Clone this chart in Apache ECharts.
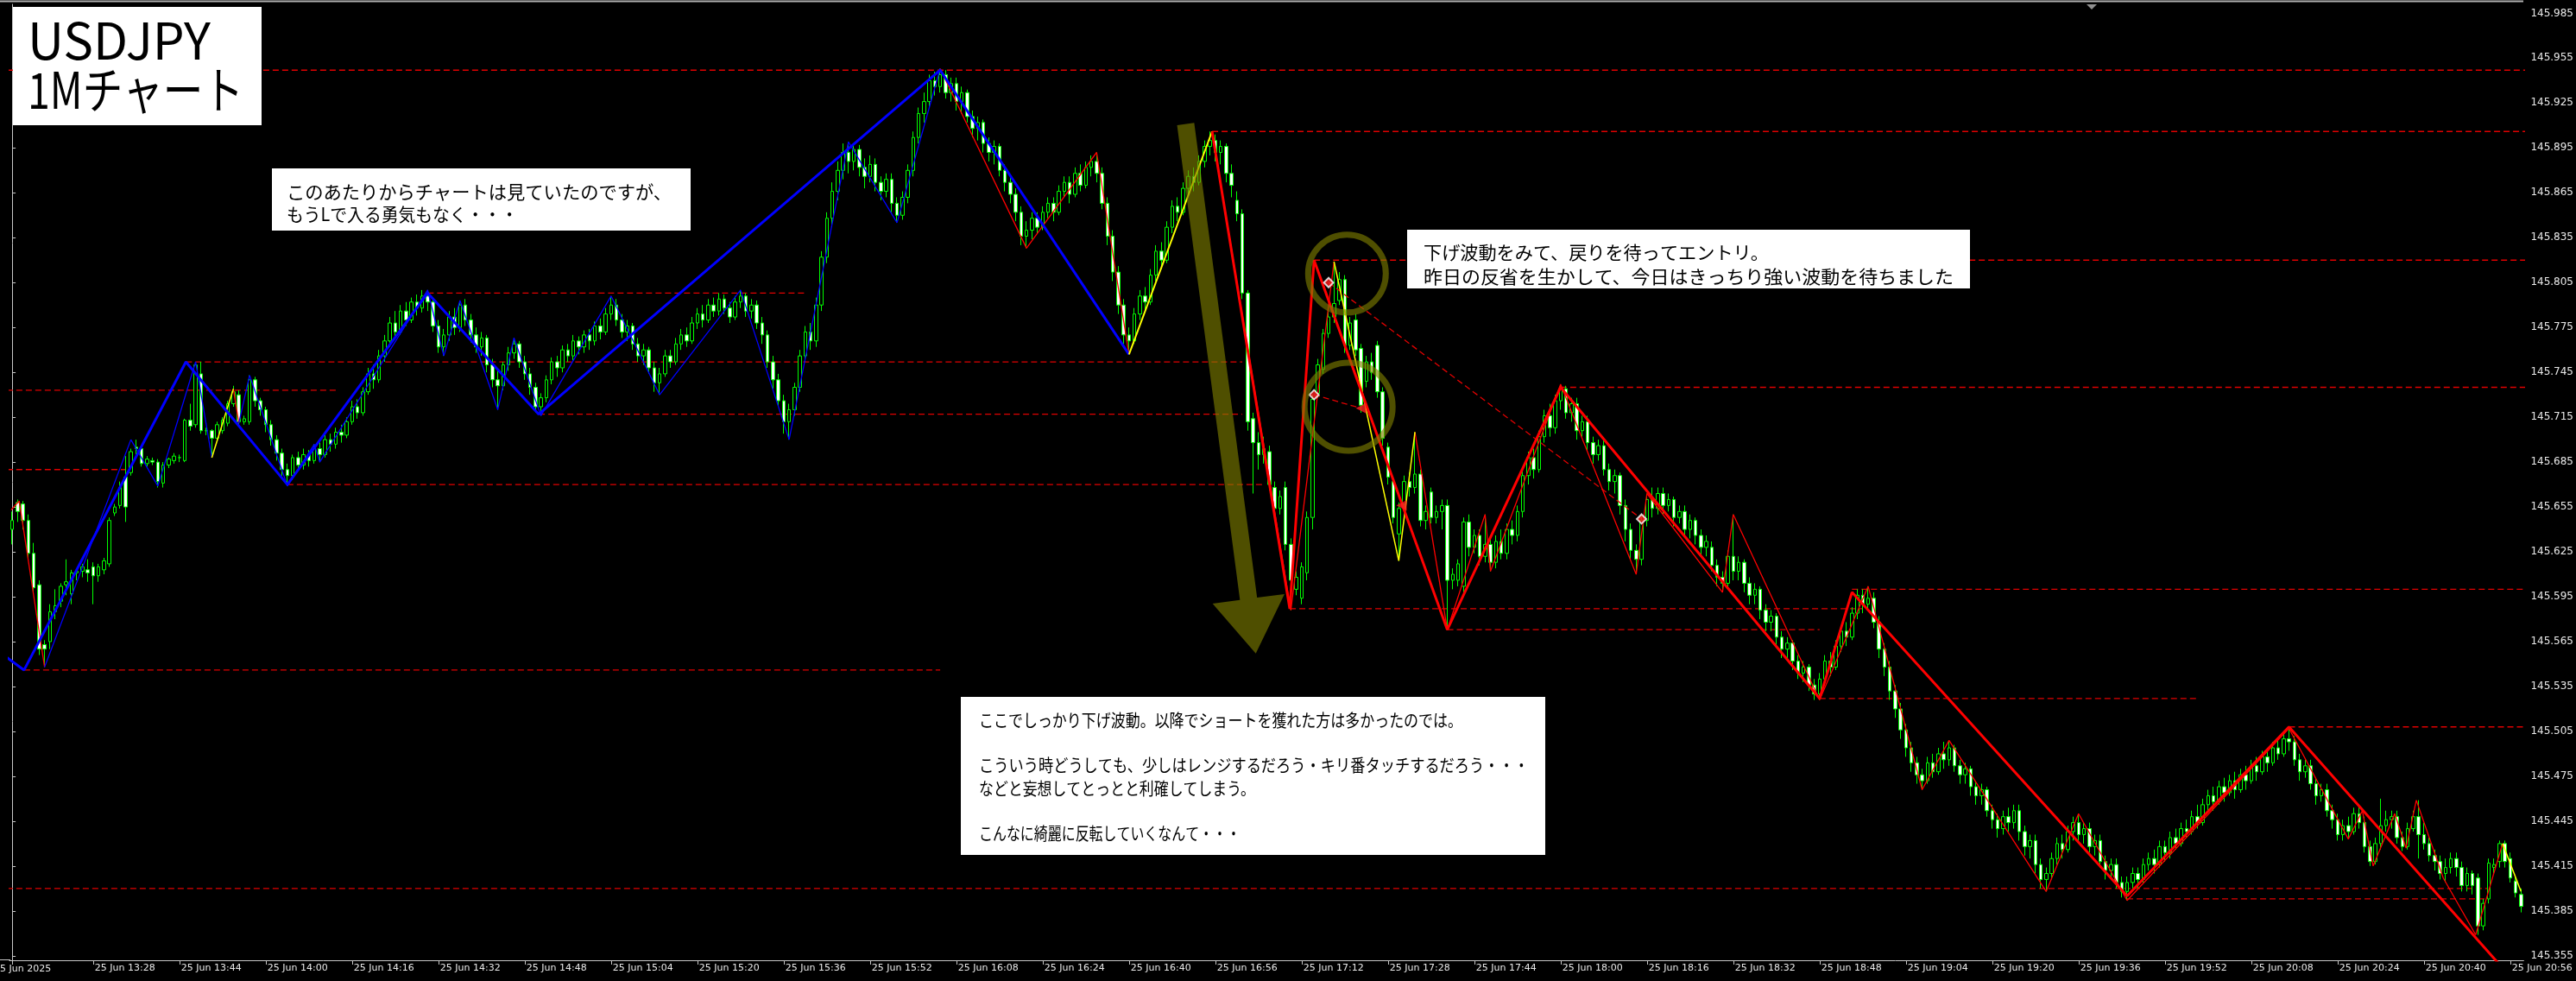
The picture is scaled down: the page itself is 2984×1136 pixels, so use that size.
<!DOCTYPE html>
<html><head><meta charset="utf-8">
<script src="https://cdn.jsdelivr.net/npm/echarts@6/dist/echarts.min.js"></script>
<style>html,body{margin:0;padding:0;background:#000;overflow:hidden}#c{width:2984px;height:1136px}</style>
</head><body><div id="c"></div>
<script>
// ---- data: 1-minute candles [open, close, low, high], first bar 25 Jun 13:13 ----
const startMinute = 13 * 60 + 13;
const bars13 = [
[145.640,145.646,145.630,145.652],[145.658,145.652,145.645,145.660],[145.657,145.646,145.640,145.659],[145.646,145.624,145.620,145.650],[145.624,145.601,145.598,145.631],
[145.603,145.560,145.556,145.606],[145.563,145.560,145.548,145.566],[145.565,145.585,145.560,145.590],[145.585,145.589,145.580,145.600],[145.592,145.602,145.588,145.604],
[145.603,145.605,145.596,145.620],[145.597,145.611,145.590,145.613],[145.611,145.612,145.606,145.614],[145.612,145.615,145.608,145.617],[145.613,145.611,145.605,145.620],
[145.615,145.609,145.590,145.618],[145.609,145.615,145.605,145.617],[145.613,145.619,145.610,145.621],[145.617,145.646,145.615,145.648],[145.651,145.655,145.649,145.657],
[145.656,145.668,145.654,145.672],[145.675,145.655,145.645,145.689],[145.678,145.692,145.676,145.694],[145.695,145.694,145.690,145.700],[145.694,145.684,145.682,145.696],
[145.684,145.687,145.682,145.689],[145.686,145.685,145.683,145.688],[145.685,145.672,145.668,145.687],[145.671,145.683,145.668,145.685],[145.683,145.687,145.681,145.688],
[145.686,145.689,145.684,145.691],[145.688,145.688,145.685,145.690],[145.686,145.713,145.685,145.714],[145.713,145.709,145.706,145.724],[145.710,145.750,145.708,145.752],
[145.744,145.706,145.704,145.752],[145.706,145.706,145.703,145.708],[145.706,145.701,145.690,145.707],[145.701,145.710,145.699,145.712],[145.706,145.713,145.704,145.715],
[145.711,145.724,145.709,145.726],[145.724,145.732,145.722,145.736],[145.730,145.712,145.710,145.733],[145.712,145.714,145.710,145.716],[145.712,145.740,145.710,145.743],
[145.740,145.726,145.722,145.742],[145.726,145.720,145.716,145.728]
];
const bars14 = [
[145.720,145.710,145.705,145.722],[145.710,145.700,145.696,145.713],[145.700,145.691,145.686,145.703],[145.691,145.680,145.676,145.694],[145.680,145.676,145.669,145.684],
[145.676,145.688,145.673,145.690],[145.688,145.683,145.679,145.692],[145.683,145.690,145.680,145.694],[145.690,145.686,145.682,145.693],[145.686,145.694,145.684,145.697],
[145.694,145.690,145.685,145.698],[145.690,145.700,145.688,145.703],[145.700,145.697,145.692,145.704],[145.697,145.705,145.694,145.708],[145.705,145.703,145.698,145.710],
[145.703,145.712,145.701,145.715],[145.712,145.722,145.710,145.726],[145.722,145.718,145.714,145.727],[145.718,145.732,145.716,145.735],[145.732,145.744,145.730,145.748],
[145.744,145.740,145.734,145.750],[145.740,145.756,145.738,145.760],[145.756,145.766,145.752,145.770],[145.766,145.778,145.762,145.782],[145.778,145.772,145.768,145.786],
[145.772,145.786,145.770,145.790],[145.786,145.780,145.776,145.792],[145.780,145.792,145.778,145.795],[145.792,145.788,145.783,145.797],[145.788,145.796,145.785,145.800],
[145.796,145.792,145.786,145.800],[145.792,145.776,145.772,145.795],[145.776,145.762,145.758,145.780],[145.762,145.770,145.756,145.774],[145.770,145.782,145.766,145.786],
[145.782,145.775,145.770,145.788],[145.775,145.790,145.772,145.793],[145.790,145.780,145.776,145.794],[145.780,145.770,145.765,145.784],[145.770,145.762,145.758,145.775],
[145.762,145.768,145.756,145.772],[145.768,145.750,145.745,145.770],[145.750,145.740,145.735,145.754],[145.740,145.736,145.720,145.748],[145.736,145.750,145.733,145.752],
[145.750,145.758,145.746,145.762],[145.758,145.764,145.754,145.768],[145.764,145.752,145.748,145.766],[145.752,145.744,145.740,145.756],[145.744,145.735,145.730,145.748],
[145.735,145.722,145.718,145.738],[145.722,145.728,145.716,145.731],[145.728,145.740,145.725,145.743],[145.740,145.752,145.737,145.755],[145.752,145.748,145.742,145.756],
[145.748,145.760,145.745,145.763],[145.760,145.756,145.752,145.764],[145.756,145.766,145.753,145.770],[145.766,145.762,145.757,145.769],[145.762,145.770,145.758,145.773]
];
const bars15 = [
[145.770,145.766,145.760,145.774],[145.766,145.776,145.763,145.779],[145.776,145.772,145.767,145.781],[145.772,145.784,145.770,145.788],[145.784,145.790,145.780,145.796],
[145.790,145.780,145.776,145.794],[145.780,145.772,145.768,145.784],[145.772,145.776,145.766,145.780],[145.776,145.764,145.760,145.778],[145.764,145.756,145.752,145.768],
[145.756,145.760,145.750,145.764],[145.760,145.748,145.744,145.762],[145.748,145.738,145.732,145.752],[145.738,145.744,145.730,145.748],[145.744,145.756,145.742,145.760],
[145.756,145.752,145.748,145.760],[145.752,145.764,145.750,145.768],[145.764,145.770,145.760,145.774],[145.770,145.766,145.762,145.775],[145.766,145.778,145.764,145.782],
[145.778,145.784,145.774,145.788],[145.784,145.780,145.775,145.790],[145.780,145.790,145.778,145.794],[145.790,145.786,145.782,145.795],[145.786,145.794,145.783,145.798],
[145.794,145.788,145.784,145.797],[145.788,145.782,145.778,145.792],[145.782,145.792,145.780,145.796],[145.792,145.796,145.788,145.800],[145.796,145.786,145.782,145.798],
[145.786,145.790,145.781,145.794],[145.790,145.778,145.774,145.793],[145.778,145.770,145.764,145.782],[145.770,145.752,145.748,145.773],[145.752,145.740,145.734,145.756],
[145.740,145.726,145.722,145.744],[145.726,145.712,145.704,145.730],[145.712,145.720,145.700,145.724],[145.720,145.735,145.716,145.738],[145.735,145.756,145.732,145.760],
[145.756,145.772,145.752,145.776],[145.772,145.766,145.760,145.778],[145.766,145.790,145.762,145.795],[145.790,145.822,145.786,145.826],[145.822,145.848,145.818,145.852],
[145.848,145.866,145.842,145.872],[145.866,145.880,145.860,145.886],[145.880,145.892,145.874,145.898],[145.892,145.886,145.878,145.899],[145.886,145.894,145.880,145.898],
[145.894,145.882,145.876,145.897],[145.882,145.876,145.868,145.888],[145.876,145.884,145.872,145.890],[145.884,145.872,145.866,145.888],[145.872,145.866,145.860,145.876],
[145.866,145.874,145.862,145.878],[145.874,145.858,145.852,145.878],[145.858,145.850,145.845,145.862],[145.850,145.862,145.847,145.866],[145.862,145.880,145.858,145.884]
];
const bars16 = [
[145.880,145.902,145.876,145.906],[145.902,145.918,145.898,145.922],[145.918,145.926,145.912,145.932],[145.926,145.940,145.922,145.944],[145.940,145.936,145.930,145.946],
[145.936,145.944,145.932,145.948],[145.944,145.932,145.928,145.947],[145.932,145.938,145.926,145.942],[145.938,145.926,145.920,145.942],[145.926,145.932,145.918,145.936],
[145.932,145.916,145.912,145.934],[145.916,145.908,145.902,145.920],[145.908,145.912,145.900,145.916],[145.912,145.898,145.892,145.914],[145.898,145.892,145.886,145.902],
[145.892,145.896,145.884,145.900],[145.896,145.880,145.876,145.898],[145.880,145.872,145.866,145.884],[145.872,145.864,145.858,145.876],[145.864,145.852,145.846,145.868],
[145.852,145.836,145.830,145.856],[145.836,145.840,145.828,145.846],[145.840,145.848,145.834,145.852],[145.848,145.842,145.838,145.852],[145.842,145.852,145.840,145.856],
[145.852,145.858,145.848,145.862],[145.858,145.852,145.846,145.862],[145.852,145.866,145.850,145.870],[145.866,145.872,145.862,145.876],[145.872,145.864,145.858,145.876],
[145.864,145.878,145.862,145.882],[145.878,145.870,145.866,145.884],[145.870,145.882,145.868,145.886],[145.882,145.886,145.876,145.890],[145.886,145.878,145.872,145.892],
[145.878,145.858,145.854,145.882],[145.858,145.836,145.830,145.862],[145.836,145.812,145.806,145.840],[145.812,145.790,145.784,145.816],[145.790,145.770,145.764,145.794],
[145.770,145.766,145.757,145.775],[145.766,145.784,145.764,145.788],[145.784,145.796,145.780,145.800],[145.796,145.792,145.786,145.802],[145.792,145.810,145.790,145.814],
[145.810,145.826,145.806,145.830],[145.826,145.820,145.814,145.832],[145.820,145.842,145.818,145.846],[145.842,145.856,145.838,145.860],[145.856,145.852,145.846,145.862],
[145.852,145.868,145.850,145.872],[145.868,145.876,145.864,145.880],[145.876,145.872,145.866,145.882],[145.872,145.886,145.870,145.890],[145.886,145.896,145.882,145.900],
[145.896,145.900,145.890,145.906],[145.900,145.892,145.886,145.904],[145.892,145.896,145.884,145.900],[145.896,145.878,145.872,145.898],[145.878,145.870,145.862,145.884]
];
const bars17 = [
[145.860,145.851,145.846,145.866],[145.851,145.798,145.794,145.854],[145.798,145.712,145.706,145.800],[145.714,145.698,145.664,145.718],[145.698,145.690,145.680,145.705],
[145.690,145.694,145.684,145.702],[145.692,145.670,145.666,145.696],[145.668,145.654,145.648,145.672],[145.654,145.662,145.650,145.666],[145.668,145.630,145.626,145.672],
[145.630,145.606,145.586,145.634],[145.600,145.608,145.596,145.612],[145.594,145.615,145.590,145.618],[145.611,145.648,145.606,145.652],[145.648,145.727,145.640,145.730],
[145.731,145.750,145.728,145.754],[145.747,145.771,145.744,145.774],[145.771,145.782,145.768,145.786],[145.782,145.791,145.778,145.819],[145.793,145.807,145.790,145.812],
[145.807,145.763,145.758,145.810],[145.763,145.778,145.760,145.782],[145.780,145.760,145.756,145.784],[145.761,145.723,145.718,145.764],[145.739,145.752,145.735,145.756],
[145.752,145.745,145.740,145.758],[145.763,145.732,145.728,145.766],[145.732,145.701,145.696,145.735],[145.695,145.675,145.670,145.698],[145.672,145.648,145.644,145.675],
[145.637,145.654,145.619,145.658],[145.657,145.672,145.654,145.676],[145.672,145.668,145.662,145.678],[145.668,145.677,145.664,145.705],[145.677,145.646,145.642,145.680],
[145.646,145.652,145.640,145.656],[145.665,145.648,145.644,145.668],[145.648,145.652,145.644,145.656],[145.652,145.656,145.640,145.660],[145.656,145.606,145.573,145.660],
[145.606,145.610,145.600,145.614],[145.606,145.617,145.602,145.620],[145.602,145.645,145.598,145.648],[145.645,145.628,145.622,145.650],[145.628,145.636,145.624,145.640],
[145.636,145.622,145.616,145.640],[145.622,145.630,145.618,145.650],[145.630,145.618,145.612,145.634],[145.618,145.632,145.614,145.636],[145.632,145.624,145.620,145.640],
[145.624,145.640,145.620,145.644],[145.640,145.636,145.630,145.646],[145.636,145.652,145.632,145.656],[145.652,145.676,145.648,145.680],[145.676,145.688,145.670,145.692],
[145.688,145.680,145.674,145.694],[145.680,145.702,145.678,145.706],[145.702,145.716,145.698,145.720],[145.716,145.708,145.702,145.724],[145.708,145.726,145.704,145.730]
];
const bars18 = [
[145.726,145.734,145.720,145.737],[145.734,145.718,145.714,145.736],[145.718,145.724,145.712,145.728],[145.724,145.706,145.700,145.728],[145.706,145.712,145.702,145.716],
[145.712,145.698,145.692,145.716],[145.698,145.690,145.684,145.702],[145.690,145.696,145.686,145.700],[145.696,145.680,145.676,145.700],[145.680,145.672,145.666,145.684],
[145.672,145.676,145.664,145.680],[145.676,145.656,145.650,145.678],[145.656,145.640,145.632,145.660],[145.640,145.626,145.620,145.644],[145.626,145.620,145.610,145.630],
[145.620,145.646,145.616,145.650],[145.646,145.660,145.642,145.664],[145.660,145.654,145.648,145.668],[145.654,145.664,145.650,145.668],[145.664,145.656,145.650,145.668],
[145.656,145.660,145.652,145.664],[145.660,145.648,145.642,145.662],[145.648,145.652,145.644,145.656],[145.652,145.640,145.636,145.656],[145.640,145.646,145.634,145.650],
[145.646,145.636,145.630,145.648],[145.636,145.628,145.622,145.640],[145.628,145.632,145.622,145.636],[145.628,145.616,145.612,145.632],[145.616,145.608,145.602,145.620],
[145.608,145.604,145.598,145.612],[145.604,145.622,145.600,145.626],[145.622,145.612,145.606,145.650],[145.612,145.618,145.606,145.622],[145.618,145.604,145.598,145.620],
[145.604,145.596,145.590,145.608],[145.596,145.600,145.590,145.604],[145.600,145.586,145.580,145.602],[145.586,145.578,145.572,145.590],[145.578,145.582,145.572,145.586],
[145.582,145.568,145.562,145.584],[145.568,145.560,145.554,145.572],[145.560,145.564,145.554,145.568],[145.564,145.552,145.546,145.566],[145.552,145.544,145.540,145.556],
[145.544,145.548,145.538,145.552],[145.548,145.536,145.532,145.550],[145.536,145.530,145.526,145.540],[145.530,145.540,145.526,145.544],[145.540,145.552,145.536,145.556],
[145.552,145.548,145.542,145.558],[145.548,145.562,145.546,145.566],[145.562,145.572,145.558,145.576],[145.572,145.568,145.562,145.578],[145.568,145.584,145.566,145.588],
[145.584,145.596,145.580,145.600],[145.596,145.590,145.584,145.600],[145.590,145.594,145.586,145.602],[145.594,145.578,145.574,145.598],[145.578,145.560,145.554,145.582]
];
const bars19 = [
[145.560,145.548,145.542,145.564],[145.548,145.532,145.526,145.552],[145.532,145.520,145.514,145.536],[145.520,145.506,145.500,145.524],[145.506,145.494,145.488,145.510],
[145.494,145.484,145.478,145.498],[145.484,145.476,145.470,145.488],[145.476,145.472,145.466,145.480],[145.472,145.484,145.470,145.488],[145.484,145.478,145.474,145.490],
[145.478,145.490,145.476,145.494],[145.490,145.486,145.480,145.498],[145.486,145.494,145.482,145.499],[145.494,145.482,145.478,145.496],[145.482,145.476,145.470,145.486],
[145.476,145.480,145.470,145.484],[145.480,145.468,145.462,145.482],[145.468,145.462,145.456,145.472],[145.462,145.466,145.456,145.470],[145.466,145.452,145.448,145.468],
[145.452,145.446,145.440,145.456],[145.446,145.440,145.434,145.450],[145.440,145.448,145.436,145.452],[145.448,145.444,145.438,145.454],[145.444,145.452,145.440,145.456],
[145.452,145.438,145.432,145.456],[145.438,145.428,145.422,145.442],[145.428,145.432,145.420,145.436],[145.432,145.416,145.410,145.436],[145.416,145.406,145.400,145.420],
[145.406,145.410,145.398,145.414],[145.410,145.420,145.406,145.424],[145.420,145.430,145.416,145.434],[145.430,145.426,145.420,145.436],[145.426,145.438,145.424,145.442],
[145.438,145.444,145.432,145.448],[145.444,145.436,145.430,145.450],[145.436,145.440,145.430,145.444],[145.440,145.428,145.424,145.444],[145.428,145.432,145.422,145.436],
[145.432,145.418,145.414,145.436],[145.418,145.412,145.406,145.422],[145.412,145.416,145.406,145.420],[145.416,145.404,145.400,145.420],[145.404,145.398,145.394,145.408],
[145.398,145.404,145.392,145.408],[145.404,145.410,145.400,145.414],[145.410,145.406,145.400,145.414],[145.406,145.416,145.404,145.420],[145.416,145.420,145.412,145.424],
[145.420,145.416,145.410,145.426],[145.416,145.428,145.414,145.432],[145.428,145.424,145.418,145.432],[145.424,145.434,145.420,145.438],[145.434,145.430,145.426,145.440],
[145.430,145.440,145.428,145.444],[145.440,145.438,145.434,145.446],[145.438,145.448,145.436,145.452],[145.448,145.444,145.440,145.456],[145.444,145.456,145.442,145.460]
];
const bars20 = [
[145.456,145.462,145.452,145.466],[145.462,145.458,145.452,145.468],[145.458,145.468,145.456,145.472],[145.468,145.464,145.458,145.474],[145.464,145.472,145.462,145.476],
[145.472,145.466,145.460,145.478],[145.466,145.476,145.464,145.480],[145.476,145.472,145.466,145.482],[145.472,145.482,145.470,145.486],[145.482,145.478,145.472,145.488],
[145.478,145.488,145.476,145.492],[145.488,145.484,145.478,145.494],[145.484,145.494,145.482,145.498],[145.494,145.490,145.486,145.500],[145.490,145.500,145.488,145.504],
[145.500,145.498,145.492,145.507],[145.498,145.486,145.482,145.502],[145.486,145.478,145.472,145.490],[145.478,145.482,145.474,145.486],[145.482,145.470,145.466,145.486],
[145.470,145.462,145.456,145.474],[145.462,145.466,145.458,145.470],[145.466,145.452,145.448,145.470],[145.452,145.446,145.440,145.456],[145.446,145.436,145.432,145.450],
[145.436,145.442,145.432,145.446],[145.442,145.438,145.433,145.448],[145.438,145.450,145.436,145.454],[145.450,145.444,145.440,145.456],[145.444,145.428,145.424,145.448],
[145.428,145.418,145.415,145.432],[145.418,145.430,145.416,145.434],[145.430,145.442,145.426,145.460],[145.442,145.446,145.438,145.452],[145.446,145.448,145.440,145.452],
[145.448,145.434,145.430,145.452],[145.434,145.428,145.425,145.438],[145.428,145.440,145.426,145.444],[145.440,145.448,145.438,145.452],[145.448,145.436,145.420,145.459],
[145.436,145.430,145.426,145.444],[145.430,145.422,145.418,145.434],[145.422,145.418,145.412,145.426],[145.418,145.410,145.406,145.422],[145.410,145.414,145.404,145.420],
[145.414,145.420,145.410,145.424],[145.420,145.414,145.408,145.424],[145.414,145.402,145.398,145.418],[145.402,145.410,145.398,145.414],[145.410,145.402,145.396,145.412],
[145.407,145.375,145.369,145.410],[145.375,145.390,145.372,145.393],[145.393,145.417,145.390,145.420],[145.414,145.416,145.410,145.420],[145.418,145.430,145.414,145.432],
[145.430,145.418,145.414,145.432],[145.420,145.407,145.404,145.424],[145.405,145.397,145.394,145.408],[145.396,145.388,145.384,145.400]
];
const xTickLabels = ['25 Jun 13:28','25 Jun 13:44','25 Jun 14:00','25 Jun 14:16','25 Jun 14:32','25 Jun 14:48','25 Jun 15:04','25 Jun 15:20','25 Jun 15:36','25 Jun 15:52','25 Jun 16:08','25 Jun 16:24','25 Jun 16:40','25 Jun 16:56','25 Jun 17:12','25 Jun 17:28','25 Jun 17:44','25 Jun 18:00','25 Jun 18:16','25 Jun 18:32','25 Jun 18:48','25 Jun 19:04','25 Jun 19:20','25 Jun 19:36','25 Jun 19:52','25 Jun 20:08','25 Jun 20:24','25 Jun 20:40','25 Jun 20:56'];
const yTickLabels = [145.355,145.385,145.415,145.445,145.475,145.505,145.535,145.565,145.595,145.625,145.655,145.685,145.715,145.745,145.775,145.805,145.835,145.865,145.895,145.925,145.955,145.985];
// zigzag pivots [bar index, price]
const zigBlueThick = [[-2,145.557],[2.2,145.546],[32.2,145.752],[51,145.670],[77,145.798],[97.6,145.717],[172,145.947],[207,145.757]];
const zigYellowThick = [[207,145.757],[222.4,145.906]];
const zigRedThick = [[222.4,145.906],[236.8,145.587],[241.3,145.820],[266,145.573],[287,145.735],[335,145.527],[341,145.598],[392,145.395],[422,145.508],[464,145.337]];
const zigRedThinA = [[-0.2,145.653],[1.3,145.659],[6,145.548]];
const zigBlueThin = [[6,145.548],[22,145.700],[27,145.669],[34,145.752],[37,145.688]];
const zigYellowThinA = [[37,145.688],[41,145.734]];
const zigRedThinB = [[41,145.734],[42,145.711]];
const zigBlueThin2 = [[42,145.711],[44,145.743],[51,145.669],[56,145.697],[57,145.685],[77,145.800],[80,145.756],[83,145.793],[90,145.720],[93,145.768],[98,145.716],[111,145.796],[120,145.730],[135,145.800],[144,145.700],[155,145.899],[164,145.845],[172,145.948]];
const zigRedThinC = [[172,145.948],[188,145.828],[201,145.892],[207,145.757]];
const zigRedThinD = [[222.4,145.906],[237,145.586],[245,145.819]];
const zigYellowThinB = [[245,145.819],[257,145.619],[260,145.705]];
const zigRedThinE = [[260,145.705],[266,145.573],[273,145.650],[274,145.612],[287,145.737],[301,145.610],[303,145.664],[317,145.598],[319,145.650],[335,145.526],[344,145.602],[354,145.466],[359,145.499],[377,145.398],[383,145.450],[392,145.392],[422,145.507],[433,145.433],[435.6,145.452],[437.6,145.415],[441.6,145.450],[443.7,145.427],[445.6,145.459],[450.6,145.407],[456.6,145.369],[461.6,145.430]];
const zigYellowThinC = [[461.6,145.430],[465,145.398]];
// horizontal dashed levels [price, from bar, to bar]
const levels = [[145.947,-1,466],[145.906,222.4,466],[145.820,241.3,466],[145.798,77,147],[145.752,32.2,228],[145.733,-1,60],[145.735,287,466],[145.717,97.6,228],[145.680,-1,21],[145.670,51,232],[145.600,341,466],[145.587,236.8,343],[145.573,266,335],[145.546,2.2,172],[145.527,335,405],[145.508,422,466],[145.400,-1,459],[145.393,392,459]];
const entryMarks = [[244,145.805],[241.3,145.730],[302,145.647]];
const exitMarks = [[250,145.721],[257.5,145.656]];
const diagLines = [[[244,145.805],[302,145.647]],[[241.3,145.730],[250,145.721]]];

// ---- build ----
const candles = [].concat(bars13, bars14, bars15, bars16, bars17, bars18, bars19, bars20);
const categories = candles.map((_, k) => {
  const t = startMinute + k, h = Math.floor(t / 60), m = t % 60;
  return '25 Jun ' + String(h).padStart(2, '0') + ':' + String(m).padStart(2, '0');
});
const lastIdx = candles.length - 1;
const tickSet = new Set(xTickLabels);
const showTick = (idx) => idx === 0 || tickSet.has(categories[idx]);
const lineS = (data, color, width, z, dash) => ({
  type: 'line', xAxisIndex: 1, yAxisIndex: 0, data, showSymbol: false, symbol: 'none',
  lineStyle: { color, width, type: dash ? [7, 4] : 'solid' }, z, animation: false, silent: true
});
const series = [{
  type: 'candlestick', xAxisIndex: 0, yAxisIndex: 0, data: candles, barWidth: 4, z: 3,
  itemStyle: { color: '#000000', color0: '#ffffff', borderColor: '#00ff00', borderColor0: '#00ff00', borderWidth: 1 },
  animation: false
}];
levels.forEach(l => series.push(lineS([[l[1], l[0]], [l[2], l[0]]], '#e00000', 1.3, 2, true)));
diagLines.forEach(d => series.push(lineS(d, '#e00000', 1.3, 4, true)));
[zigRedThinA, zigRedThinB, zigRedThinC, zigRedThinD, zigRedThinE].forEach(d => series.push(lineS(d, '#ff0000', 1.3, 5)));
[zigBlueThin, zigBlueThin2].forEach(d => series.push(lineS(d, '#0000ff', 1.3, 5)));
[zigYellowThinA, zigYellowThinB, zigYellowThinC].forEach(d => series.push(lineS(d, '#ffff00', 1.5, 5)));
series.push(lineS(zigBlueThick, '#0000ff', 3, 6));
series.push(lineS(zigYellowThick, '#ffff00', 2, 6));
series.push(lineS(zigRedThick, '#ff0000', 3, 6));
series.push({ type: 'scatter', xAxisIndex: 1, yAxisIndex: 0, data: entryMarks, symbol: 'diamond', symbolSize: 11,
  itemStyle: { color: '#ff2020', borderColor: '#ffffff', borderWidth: 2 }, z: 7, animation: false });
series.push({ type: 'scatter', xAxisIndex: 1, yAxisIndex: 0, data: exitMarks, symbol: 'triangle', symbolRotate: 90, symbolSize: 12,
  itemStyle: { color: '#ff2020' }, z: 7, animation: false });

const chart = echarts.init(document.getElementById('c'), null, { width: 2984, height: 1136 });
chart.setOption({
  backgroundColor: '#000000', animation: false,
  grid: { left: 11, right: 60.5, top: 5, bottom: 24, containLabel: false },
  xAxis: [{
    type: 'category', data: categories, boundaryGap: true,
    axisLine: { show: true, lineStyle: { color: '#c8c8c8', width: 1 } },
    axisTick: { show: true, interval: (i) => showTick(i), alignWithLabel: true, length: 5, lineStyle: { color: '#c8c8c8' } },
    axisLabel: { interval: (i) => showTick(i) && i > 0, formatter: (v) => v, align: 'left', margin: 4, padding: [0, 0, 0, 2],
      color: '#e8e8e8', fontFamily: 'DejaVu Sans', fontSize: 11 },
    splitLine: { show: false }
  }, { type: 'value', min: -0.5, max: lastIdx + 0.5, show: false }],
  yAxis: [{
    type: 'value', position: 'right', min: 145.352, max: 145.991, scale: true,
    axisLine: { show: true, lineStyle: { color: '#c8c8c8', width: 1 } },
    axisTick: { show: true, length: 4, customValues: yTickLabels, lineStyle: { color: '#c8c8c8' } },
    axisLabel: { customValues: yTickLabels, formatter: (v) => Number(v).toFixed(3), margin: 8,
      color: '#e8e8e8', fontFamily: 'DejaVu Sans', fontSize: 12 },
    splitLine: { show: false }
  }],
  series
});

// ---- annotations anchored in data space ----
const px = (i, p) => chart.convertToPixel({ xAxisIndex: 1, yAxisIndex: 0 }, [i, p]);
const olive = 'rgba(128,128,0,0.62)';
const arrowTop = px(217.5, 145.911), arrowTip = px(230.5, 145.557);
function arrowPoly(a, t, shaftW, headW, headL) {
  const dx = t[0] - a[0], dy = t[1] - a[1], len = Math.hypot(dx, dy);
  const ux = dx / len, uy = dy / len, nx = -uy, ny = ux;
  const bx = t[0] - ux * headL, by = t[1] - uy * headL;
  return [[a[0] + nx * shaftW / 2, a[1] + ny * shaftW / 2], [bx + nx * shaftW / 2, by + ny * shaftW / 2], [bx + nx * headW / 2, by + ny * headW / 2], t,
    [bx - nx * headW / 2, by - ny * headW / 2], [bx - nx * shaftW / 2, by - ny * shaftW / 2], [a[0] - nx * shaftW / 2, a[1] - ny * shaftW / 2]];
}
const c1 = px(247.4, 145.811), c2 = px(247.7, 145.722);
const jp = '"Noto Sans CJK JP"';
const mctx = document.createElement('canvas').getContext('2d');
const box = (x, y, w, h) => ({ type: 'rect', shape: { x, y, width: w, height: h }, style: { fill: '#ffffff' }, z: 100 });
function txt(x, y, text, size, targetW) {
  const font = size + 'px ' + jp;
  mctx.font = font;
  const w = mctx.measureText(text).width;
  return { type: 'text', x, y, z: 101, scaleX: targetW ? targetW / w : 1,
    style: { x: 0, y: 0, text, fill: '#000000', font, textVerticalAlign: 'middle', textAlign: 'left' } };
}
chart.setOption({
  graphic: [
    { type: 'line', shape: { x1: 0, y1: 1.5, x2: 2923, y2: 1.5 }, style: { stroke: '#b0b0b0', lineWidth: 2 }, z: 90 },
    { type: 'line', shape: { x1: 0, y1: 1111.5, x2: 12, y2: 1111.5 }, style: { stroke: '#c8c8c8', lineWidth: 1 }, z: 90 },
    { type: 'polygon', shape: { points: [[2417, 5], [2429, 5], [2423, 11]] }, style: { fill: '#909090' }, z: 90 },
    { type: 'polygon', shape: { points: arrowPoly(arrowTop, arrowTip, 20, 84, 64) }, style: { fill: olive }, z: 60 },
    { type: 'circle', shape: { cx: c1[0], cy: c1[1], r: 45 }, style: { fill: 'none', stroke: olive, lineWidth: 7 }, z: 60 },
    { type: 'circle', shape: { cx: c2[0], cy: c2[1], r: 51 }, style: { fill: 'none', stroke: olive, lineWidth: 7 }, z: 60 },
    box(15, 8, 288, 137),
    txt(32, 47, 'USDJPY', 58, 212),
    txt(32, 104, '1Mチャート', 58, 250),
    box(315, 195, 485, 72),
    txt(332, 222, 'このあたりからチャートは見ていたのですが、', 21, 446),
    txt(332, 248, 'もうLで入る勇気もなく・・・', 21, 268),
    box(1630, 266, 652, 68),
    txt(1649, 292, '下げ波動をみて、戻りを待ってエントリ。', 21, 400),
    txt(1649, 320, '昨日の反省を生かして、今日はきっちり強い波動を待ちました', 21, 614),
    box(1113, 807, 677, 183),
    txt(1134, 834, 'ここでしっかり下げ波動。以降でショートを獲れた方は多かったのでは。', 20, 560),
    txt(1134, 886, 'こういう時どうしても、少しはレンジするだろう・キリ番タッチするだろう・・・', 20, 637),
    txt(1134, 913, 'などと妄想してとっとと利確してしまう。', 20, 320),
    txt(1134, 965, 'こんなに綺麗に反転していくなんて・・・', 20, 303),
    { type: 'text', x: -7, y: 1117, z: 90, style: { text: '25 Jun 2025', fill: '#e8e8e8', font: '11px "DejaVu Sans"' } }
  ]
});
if (candles.length !== 466) setTimeout(() => { throw new Error('candle count ' + candles.length); }, 0);
</script></body></html>
